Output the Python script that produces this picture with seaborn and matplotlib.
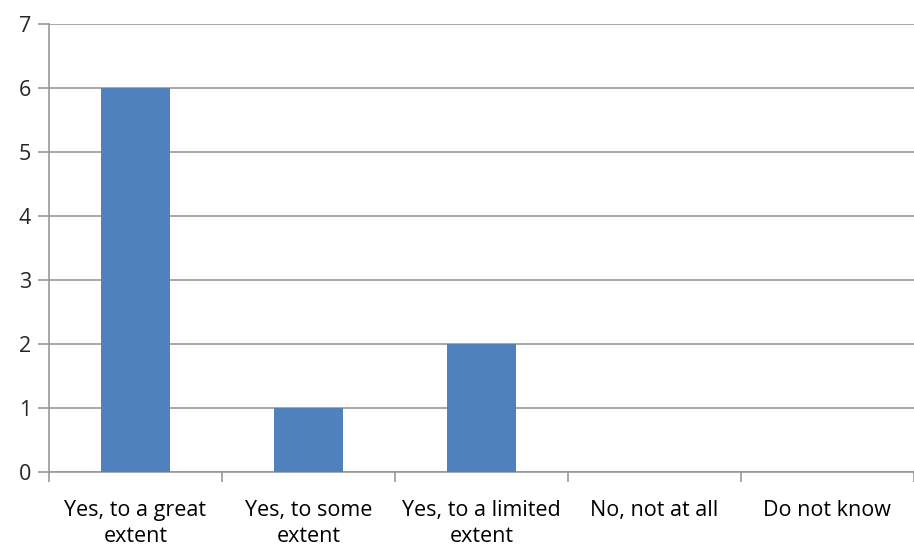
import matplotlib
matplotlib.use('Agg')
import matplotlib.pyplot as plt
import seaborn as sns
import pandas as pd
from matplotlib.ticker import FixedLocator

categories = ['Yes, to a great\nextent', 'Yes, to some\nextent', 'Yes, to a limited\nextent',
              'No, not at all', 'Do not know']
counts = [6, 1, 2, 0, 0]
y_ticks = [0, 1, 2, 3, 4, 5, 6, 7]

sns.set_style('white')
plt.rcParams['font.family'] = ['Open Sans', 'DejaVu Sans']

df = pd.DataFrame({'category': categories, 'count': counts})

fig = plt.figure(figsize=(9.14, 5.47), dpi=100)
ax = fig.add_axes([0.0536, 0.137, 0.946, 0.819])

sns.barplot(data=df, x='category', y='count', color='#4F81BD', width=0.4,
            saturation=1, linewidth=0, ax=ax, zorder=3)

ax.set_ylim(0, 7)
ax.set_xlim(-0.5, len(categories) - 0.5)
ax.set_yticks(y_ticks)
ax.yaxis.grid(True, color='#989898', linewidth=1.2, zorder=0)
ax.set_axisbelow(True)
ax.set_xlabel('')
ax.set_ylabel('')

for side in ['top', 'right']:
    ax.spines[side].set_visible(False)
for side in ['left', 'bottom']:
    ax.spines[side].set_color('#989898')
    ax.spines[side].set_linewidth(1.2)

# category labels centred, tick marks between categories
for lbl in ax.get_xticklabels():
    lbl.set_linespacing(1.3)
ax.tick_params(axis='x', which='major', length=0, labelsize=15.5, colors='black', pad=20)
ax.xaxis.set_minor_locator(FixedLocator([i - 0.5 for i in range(len(categories) + 1)]))
ax.tick_params(axis='x', which='minor', bottom=True, length=7, width=1.2,
               color='#989898', direction='out')
ax.tick_params(axis='y', left=True, length=8, width=1.2, color='#989898',
               direction='out', labelsize=15.5, pad=5)

plt.savefig('out.png', dpi=100)
